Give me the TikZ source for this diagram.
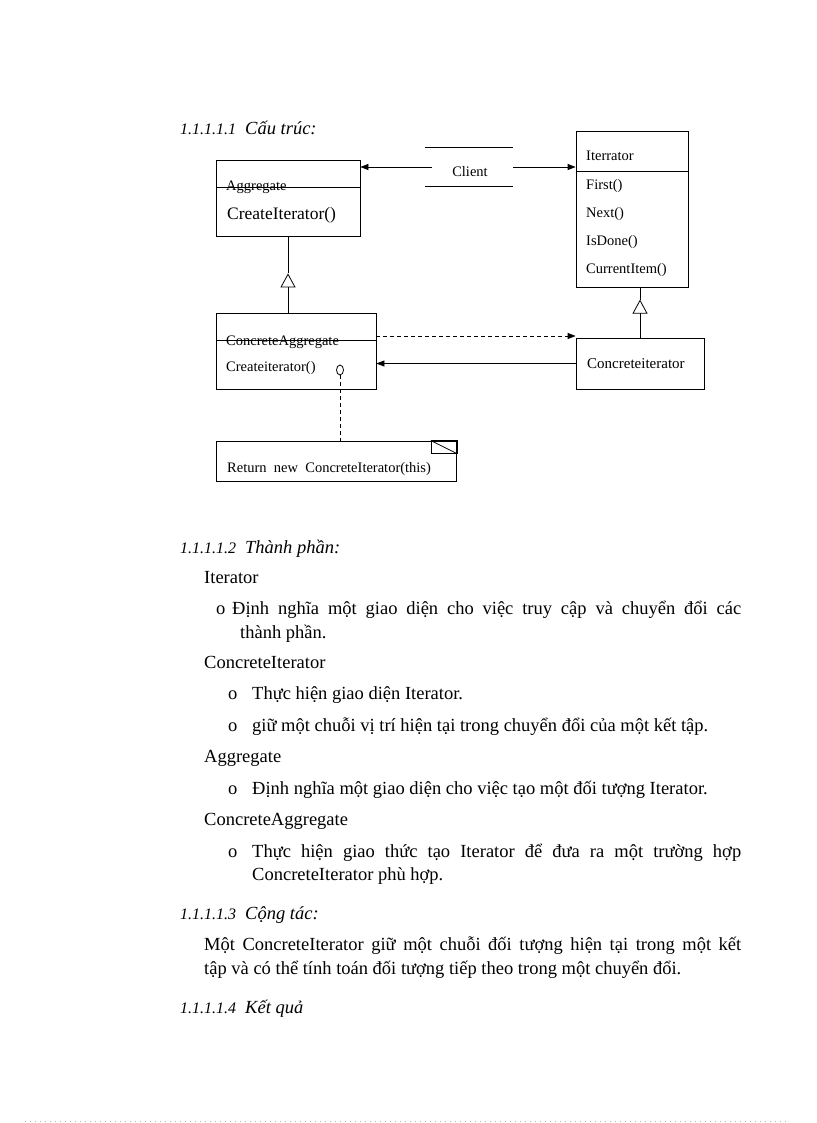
\documentclass[tikz,border=0pt]{standalone}
\usepackage{fontspec}
\setmainfont{Liberation Serif}
\usetikzlibrary{arrows.meta,calc,shapes.geometric}
\newcommand{\hnum}[1]{{\fontsize{16}{18}\selectfont #1}\hspace{9pt}}
\begin{document}
\begin{tikzpicture}[x=1pt,y=-1pt,
  box/.style={draw,line width=0.8pt,inner sep=0},
  sm/.style={inner sep=0,anchor=base west,font=\fontsize{14.5}{17}\selectfont},
  big/.style={inner sep=0,anchor=base west,font=\fontsize{17.5}{20}\selectfont},
  body/.style={inner sep=0,anchor=base west,font=\fontsize{18.5}{21}\selectfont},
  head/.style={inner sep=0,anchor=base west,font=\fontsize{18.5}{21}\selectfont\itshape},
  arr/.style={line width=0.8pt,-{Triangle[length=8pt,width=6pt]}},
  inh/.style={line width=0.8pt,-{Triangle[open,length=14pt,width=15pt]}},
  dsh/.style={line width=0.8pt,dash pattern=on 4pt off 3pt}]
\fill[white] (0,0) rectangle (816,1123);
\useasboundingbox (0,0) rectangle (816,1123);

% heading
\node[head] (h1) at (180,135) {\hnum{1.1.1.1.1}Cấu trúc:};

% Aggregate
\node[box,minimum width=144,minimum height=76] (agg) at (288,198) {};
\node[sm] (aggname) at (226,191) {Aggregate};
\draw[line width=0.8pt] ($(agg.north west)+(0,28)$) -- ($(agg.north east)+(0,28)$);
\node[big] (aggop) at (227,219) {CreateIterator()};

% Client
\node[inner sep=0,minimum width=88,minimum height=38] (client) at (469,167) {};
\node[sm,anchor=center] (clientlbl) at ($(client.center)+(1,5)$) {Client};
\draw[line width=0.8pt] (client.north west) -- (client.north east);
\draw[line width=0.8pt] (client.south west) -- (client.south east);

% Iterator
\node[box,minimum width=112,minimum height=156] (iter) at (632,209) {};
\draw[line width=0.8pt] ($(iter.north west)+(0,41)$) -- ($(iter.north east)+(0,41)$);
\node[sm] (itname) at (586,161) {Iterrator};
\node[sm] (op1) at (586,190) {First()};
\node[sm] (op2) at (586,217.5) {Next()};
\node[sm] (op3) at (586,245) {IsDone()};
\node[sm] (op4) at (586,273) {CurrentItem()};

% ConcreteAggregate
\node[box,minimum width=160,minimum height=76] (ca) at (296,351) {};
\node[sm] (caname) at (226,345) {ConcreteAggregate};
\draw[line width=0.8pt] ($(ca.north west)+(0,28)$) -- ($(ca.north east)+(0,28)$);
\node[sm] (caop) at (226,371) {Createiterator()};
\node[draw,line width=0.8pt,ellipse,inner sep=0,minimum width=7,minimum height=10] (circ) at (340,370) {};

% ConcreteIterator
\node[box,minimum width=128,minimum height=51] (ci) at (640,363.5) {};
\node[sm,font=\fontsize{15}{17}\selectfont] (ciname) at (587,368) {Concreteiterator};

% Note
\node[box,minimum width=240,minimum height=40] (note) at (336.5,461) {};
\draw[line width=0.8pt] ($(note.north east)+(-26,0)$) rectangle ($(note.north east)+(0,13)$);
\draw[line width=0.8pt] ($(note.north east)+(-26,0)$) -- ($(note.north east)+(0,13)$);
\node[sm] (notetxt) at (227,472) {Return\ \ new\ \ ConcreteIterator(this)};

% connectors
\draw[arr] ($(client.west)+(7,0)$) -- (client.west -| agg.east);
\draw[arr] (client.east) -- (client.east -| iter.west);
\coordinate (t1) at ($(agg.south)+(0,37)$);
\draw[inh] (agg.south |- ca.north) -- (t1);
\draw[line width=0.8pt] (t1) -- (agg.south);
\coordinate (t2) at ($(ci.north)+(0,-38)$);
\draw[inh] (ci.north) -- (t2);
\draw[line width=0.8pt] (t2) -- (t2 |- iter.south);
\coordinate (d1) at ($(ca.east)+(0,-15)$);
\draw[dsh,-{Triangle[length=8pt,width=6pt]}] (d1) -- (d1 -| ci.west);
\draw[arr] (ci.west) -- (ci.west -| ca.east);
\draw[dsh] (circ.south) -- (circ.south |- note.north);

% text
\node[head] (h2) at (180,553) {\hnum{1.1.1.1.2}Thành phần:};
\node[body] (b1) at (204,583) {Iterator};
\node[body] (b1o) at (216,614) {o};
\node[body] (b1a) at (232,614) {\hbox to 509pt{Định nghĩa một giao diện cho việc truy cập và chuyển đổi các}};
\node[body] (b1b) at (240,638) {thành phần.};
\node[body] (b2) at (204,668) {ConcreteIterator};
\node[body] (b2o1) at (228,699) {o};
\node[body] (b2a) at (252,699) {Thực hiện giao diện Iterator.};
\node[body] (b2o2) at (228,731) {o};
\node[body] (b2b) at (252,731) {giữ một chuỗi vị trí hiện tại trong chuyển đổi của một kết tập.};
\node[body] (b3) at (204,762) {Aggregate};
\node[body] (b3o) at (228,794) {o};
\node[body] (b3a) at (252,794) {Định nghĩa một giao diện cho việc tạo một đối tượng Iterator.};
\node[body] (b4) at (204,825) {ConcreteAggregate};
\node[body] (b4o) at (228,857) {o};
\node[body] (b4a) at (252,857) {\hbox to 489pt{Thực hiện giao thức tạo Iterator để đưa ra một trường hợp}};
\node[body] (b4b) at (252,880) {ConcreteIterator phù hợp.};
\node[head] (h3) at (180,919) {\hnum{1.1.1.1.3}Cộng tác:};
\node[body] (c1) at (204,950) {\hbox to 537pt{Một ConcreteIterator giữ một chuỗi đối tượng hiện tại trong một kết}};
\node[body] (c2) at (204,974) {tập và có thể tính toán đối tượng tiếp theo trong một chuyển đổi.};
\node[head] (h4) at (180,1013) {\hnum{1.1.1.1.4}Kết quả};

% bottom dotted rule
\draw[gray!60,line width=0.6pt,dash pattern=on 0.8pt off 4.2pt] (25,1121) -- (790,1121);
\end{tikzpicture}
\end{document}
